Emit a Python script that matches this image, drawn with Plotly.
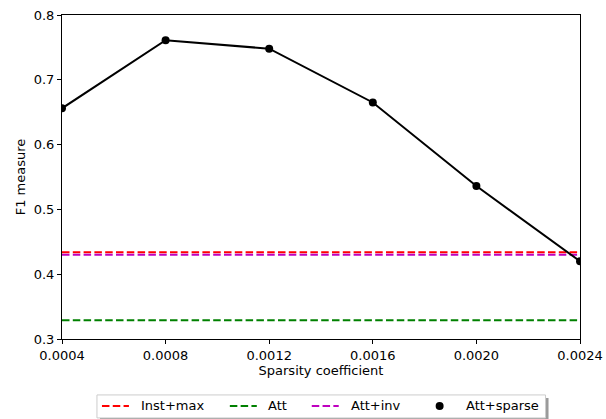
import plotly.graph_objects as go

x_vals = [0.0004, 0.0008, 0.0012, 0.0016, 0.0020, 0.0024]
att_sparse = [0.656, 0.761, 0.748, 0.665, 0.536, 0.420]
inst_max = [0.434] * len(x_vals)
att = [0.329] * len(x_vals)
att_inv = [0.430] * len(x_vals)
x_ticks = [0.0004, 0.0008, 0.0012, 0.0016, 0.0020, 0.0024]
x_tick_text = ["0.0004", "0.0008", "0.0012", "0.0016", "0.0020", "0.0024"]
y_ticks = [0.3, 0.4, 0.5, 0.6, 0.7, 0.8]
series_names = ["Inst+max", "Att", "Att+inv", "Att+sparse"]
series_colors = ["red", "green", "#bf00bf", "black"]

W, H = 606, 419
PL, PR, PT, PB = 62, 580.5, 14.7, 339          # plot area in page pixels
L, T = PL, PT
R, B = W - PR, H - PB
pw, ph = PR - PL, PB - PT
FONT = "DejaVu Sans"
FS = 13
dash = "7.5px,3.3px"


def px(xp):
    return (xp - PL) / pw


def py(yp):
    return 1 - (yp - PT) / ph


fig = go.Figure()
for name, vals, col in zip(series_names[:3], [inst_max, att, att_inv], series_colors[:3]):
    fig.add_trace(go.Scatter(x=x_vals, y=vals, mode="lines", name=name,
                             line=dict(color=col, width=2, dash=dash), showlegend=False))
fig.add_trace(go.Scatter(x=x_vals, y=att_sparse, mode="lines+markers", name=series_names[3],
                         line=dict(color="black", width=2),
                         marker=dict(color="black", size=8), showlegend=False))

# manual matplotlib-style legend (pixel layout converted to paper coords)
lx0, lx1, ly0, ly1 = 97, 546, 395, 418
fig.add_shape(type="rect", xref="paper", yref="paper",
              x0=px(lx0 + 3), x1=px(lx1 + 3), y0=py(ly1 + 3), y1=py(ly0 + 3),
              fillcolor="#9a9a9a", line=dict(width=0))
fig.add_shape(type="rect", xref="paper", yref="paper",
              x0=px(lx0), x1=px(lx1), y0=py(ly1), y1=py(ly0),
              fillcolor="white", line=dict(color="#cccccc", width=1))
row_y = 406
sample_x = [102, 230, 312]
text_x = [140, 267, 350, 465]
for sx, col in zip(sample_x, series_colors[:3]):
    fig.add_shape(type="line", xref="paper", yref="paper",
                  x0=px(sx), x1=px(sx + 27), y0=py(row_y), y1=py(row_y),
                  line=dict(color=col, width=2, dash=dash))
fig.add_shape(type="circle", xref="paper", yref="paper",
              x0=px(440 - 4), x1=px(440 + 4), y0=py(row_y + 4), y1=py(row_y - 4),
              fillcolor="black", line=dict(color="black", width=0))
for tx, name in zip(text_x, series_names):
    fig.add_annotation(x=px(tx), y=py(row_y), xref="paper", yref="paper", text=name,
                       showarrow=False, xanchor="left", yanchor="middle",
                       xshift=-1, font=dict(family=FONT, size=FS, color="black"))

axis_common = dict(showline=True, linecolor="black", linewidth=1, mirror=True,
                   ticks="outside", ticklen=4, tickwidth=1, tickcolor="black",
                   showgrid=False, zeroline=False, automargin=False,
                   ticklabeloverflow="allow",
                   tickfont=dict(family=FONT, size=FS, color="black"))
fig.update_xaxes(range=[0.0004, 0.0024], tickvals=x_ticks, ticktext=x_tick_text,
                 title=dict(text="Sparsity coefficient", standoff=3,
                            font=dict(family=FONT, size=FS, color="black")),
                 **axis_common)
fig.update_yaxes(range=[0.3, 0.8], tickvals=y_ticks, tickformat=".1f",
                 title=dict(text="F1 measure", standoff=5,
                            font=dict(family=FONT, size=FS, color="black")),
                 **axis_common)
fig.update_layout(
    width=W, height=H, margin=dict(l=L, r=R, t=T, b=B),
    paper_bgcolor="white", plot_bgcolor="white",
    font=dict(family=FONT, size=FS, color="black"),
    showlegend=False,
)
fig.write_html("out.html", config={"displayModeBar": False},
               post_script="document.body.style.margin='0px';"
                           "document.body.style.overflow='hidden';")
